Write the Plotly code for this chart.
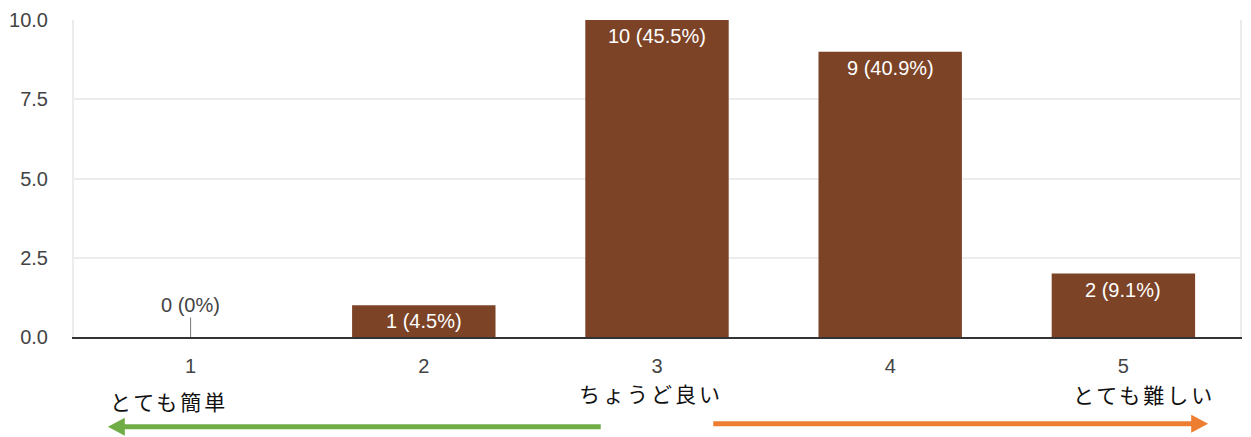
import plotly.graph_objects as go

categories = [1, 2, 3, 4, 5]
counts = [0, 1, 10, 9, 2]
percent_labels = ["0%", "4.5%", "45.5%", "40.9%", "9.1%"]
y_ticks = [0, 2.5, 5.0, 7.5, 10.0]
scale_labels = ["とても簡単", "ちょうど良い", "とても難しい"]

W, H = 1251, 437
ML, MR, MT, MB = 71, 9, 19, 100
PW, PH = W - ML - MR, H - MT - MB

def px2x(px):
    return (px - ML) / PW

def px2y(py):
    return (H - MB - py) / PH

BAR = "#7C4327"
FONT = "Arial, 'Liberation Sans', sans-serif"
FS = 20

fig = go.Figure()
fig.add_trace(go.Bar(x=categories, y=counts, width=0.615,
                     marker=dict(color=BAR, line=dict(width=0)), hoverinfo="skip"))

anns = []
for c, v, p in zip(categories, counts, percent_labels):
    label = f"{v} ({p})"
    if v > 0:
        anns.append(dict(x=c, y=v, xref="x", yref="y", text=label, showarrow=False,
                         yanchor="middle", yshift=-16,
                         font=dict(family=FONT, size=FS, color="white")))
    else:
        anns.append(dict(x=c, y=v, xref="x", yref="y", text=label, showarrow=True,
                         arrowhead=0, arrowwidth=1, arrowcolor="#777", ax=0, ay=-32,
                         font=dict(family=FONT, size=FS, color="#444")))

label_pos = [(166, 401), (650, 393), (1146, 394)]
for t, (px, py) in zip(scale_labels, label_pos):
    anns.append(dict(x=px2x(px), y=px2y(py), xref="paper", yref="paper",
                     text=f'<span style="letter-spacing:3px">{t}</span>',
                     showarrow=False, xanchor="center", yanchor="middle",
                     font=dict(family="Noto Sans CJK JP", size=21, color="#111")))

shapes = []
GREEN = "#70AD47"
ORANGE = "#ED7D31"
gy = 427
shapes.append(dict(type="line", xref="paper", yref="paper",
                   x0=px2x(600), x1=px2x(118), y0=px2y(gy), y1=px2y(gy),
                   line=dict(color=GREEN, width=5)))
shapes.append(dict(type="path", xref="paper", yref="paper",
                   path=f"M {px2x(105)},{px2y(gy)} L {px2x(122)},{px2y(gy-9)} L {px2x(122)},{px2y(gy+9)} Z",
                   fillcolor=GREEN, line=dict(width=0)))
oy = 424
shapes.append(dict(type="line", xref="paper", yref="paper",
                   x0=px2x(713), x1=px2x(1196), y0=px2y(oy), y1=px2y(oy),
                   line=dict(color=ORANGE, width=5)))
shapes.append(dict(type="path", xref="paper", yref="paper",
                   path=f"M {px2x(1210)},{px2y(oy)} L {px2x(1193)},{px2y(oy-9)} L {px2x(1193)},{px2y(oy+9)} Z",
                   fillcolor=ORANGE, line=dict(width=0)))

fig.update_layout(
    width=W, height=H,
    margin=dict(l=ML, r=MR, t=MT, b=MB, pad=0),
    plot_bgcolor="white", paper_bgcolor="white",
    showlegend=False,
    annotations=anns,
    shapes=shapes,
    font=dict(family=FONT, size=FS, color="#444"),
)
fig.update_xaxes(range=[0.5, 5.5], tickvals=categories,
                 ticktext=[str(c) for c in categories],
                 showline=True, linecolor="#333", linewidth=2,
                 showgrid=False, zeroline=False, ticks="", ticklabelstandoff=10,
                 tickfont=dict(family=FONT, size=FS, color="#444"), fixedrange=True)
fig.update_yaxes(range=[0, 10], tickvals=y_ticks, tickformat=".1f",
                 showgrid=True, gridcolor="#ececec", gridwidth=2, zeroline=False,
                 showline=True, linecolor="#ececec", linewidth=2, mirror=True,
                 ticks="", ticklabelstandoff=20,
                 tickfont=dict(family=FONT, size=FS, color="#444"), fixedrange=True)

fig.write_html("out.html")
